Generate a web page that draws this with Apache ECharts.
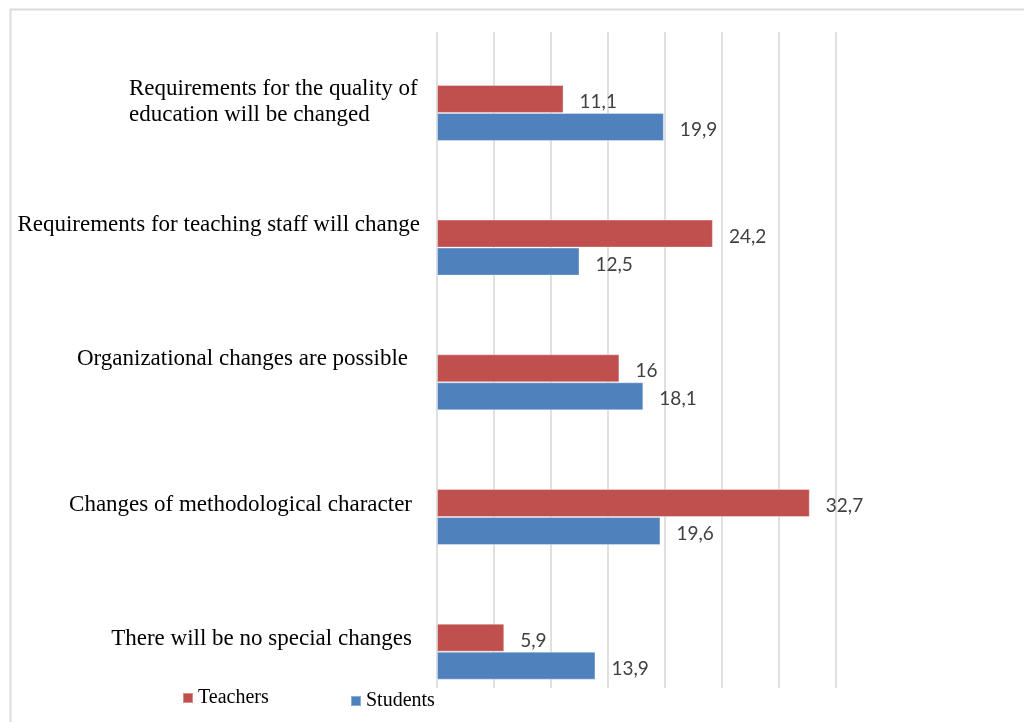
<!DOCTYPE html>
<html>
<head>
<meta charset="utf-8">
<script src="https://cdn.jsdelivr.net/npm/echarts@6/dist/echarts.min.js"></script>
<style>html,body{margin:0;padding:0;background:#fff;}#c{width:1024px;height:722px;}</style>
</head>
<body>
<div id="c"></div>
<script>
const categories = [
  "Requirements for the quality of\neducation will be changed",
  "Requirements for teaching staff will change",
  "Organizational changes are possible",
  "Changes of methodological character",
  "There will be no special changes"
];
const seriesNames = ["Teachers", "Students"];
const teachers = [11.1, 24.2, 16, 32.7, 5.9];
const students = [19.9, 12.5, 18.1, 19.6, 13.9];
const axisMax = 35;
const axisStep = 5;

const SERIF = '"Liberation Serif", "Times New Roman", serif';
const labelFont = 'Lato, "Open Sans", sans-serif';

const chart = echarts.init(document.getElementById('c'), null, {renderer: 'canvas'});

const base = {fontFamily: SERIF, fontSize: 23, color: '#000'};
const rich = {
  m0: Object.assign({}, base, {width: 291, align: 'left', lineHeight: 26}),
  m1: Object.assign({}, base, {width: 291, align: 'left', lineHeight: 26}),
  sp: Object.assign({}, base, {lineHeight: 21, fontSize: 10}),
  c1: Object.assign({}, base, {padding: [0, 0, 46, 0]}),
  c2: Object.assign({}, base, {padding: [0, 12, 46, 0]}),
  c3: Object.assign({}, base, {padding: [0, 8, 24, 0]}),
  c4: Object.assign({}, base, {padding: [0, 8, 26, 0]})
};

function fmtLabel(value, idx) {
  if (idx === 0) {
    const parts = value.split('\n');
    return '{m0|' + parts[0] + '}\n{m1|' + parts[1] + '}\n{sp| }';
  }
  return '{c' + idx + '|' + value + '}';
}

const dataLabel = {
  show: true,
  position: 'right',
  distance: 16,
  offset: [0, 3],
  color: '#404040',
  fontFamily: labelFont,
  fontSize: 19,
  formatter: p => String(p.value).replace('.', ',')
};

const legendText = {fontFamily: SERIF, fontSize: 20, color: '#000'};

const option = {
  backgroundColor: '#fff',
  animation: false,
  graphic: [{
    type: 'rect',
    left: 8, top: 7,
    shape: {width: 1040, height: 740},
    style: {fill: 'none', stroke: '#dcdcdc', lineWidth: 2},
    silent: true
  }],
  legend: [{
    data: [seriesNames[0]],
    left: 177, top: 683,
    icon: 'rect', itemWidth: 10, itemHeight: 10,
    textStyle: legendText
  }, {
    data: [seriesNames[1]],
    left: 345, top: 686,
    icon: 'rect', itemWidth: 10, itemHeight: 10,
    textStyle: legendText
  }],
  grid: [
    {left: 437, right: 188, top: 45.6, bottom: 3, containLabel: false},
    {left: 437, right: 188, top: 32, bottom: 34, containLabel: false}
  ],
  xAxis: [{
    gridIndex: 0, type: 'value', min: 0, max: axisMax, interval: axisStep,
    axisLabel: {show: false}, axisLine: {show: false}, axisTick: {show: false},
    splitLine: {show: false}
  }, {
    gridIndex: 1, type: 'value', min: 0, max: axisMax, interval: axisStep,
    axisLabel: {show: false}, axisLine: {show: false}, axisTick: {show: false},
    splitLine: {show: true, lineStyle: {color: '#e0e0e0', width: 2}}
  }],
  yAxis: [{
    gridIndex: 0, type: 'category', data: categories, inverse: true,
    axisLine: {show: false}, axisTick: {show: false},
    axisLabel: {margin: 17, formatter: fmtLabel, rich: rich, align: 'right'}
  }, {
    gridIndex: 1, type: 'value', min: 0, max: 1, show: false,
    splitLine: {show: false}
  }],
  series: [{
    name: seriesNames[0], type: 'bar', xAxisIndex: 0, yAxisIndex: 0,
    data: teachers, barWidth: 28, barGap: '0%',
    itemStyle: {color: '#C0504D', borderColor: 'rgba(255,255,255,0.35)', borderWidth: 1},
    label: dataLabel, z: 3
  }, {
    name: seriesNames[1], type: 'bar', xAxisIndex: 0, yAxisIndex: 0,
    data: students, barWidth: 28, barGap: '0%',
    itemStyle: {color: '#4F81BD', borderColor: 'rgba(255,255,255,0.35)', borderWidth: 1},
    label: dataLabel, z: 3
  }]
};
chart.setOption(option);
</script>
</body>
</html>
